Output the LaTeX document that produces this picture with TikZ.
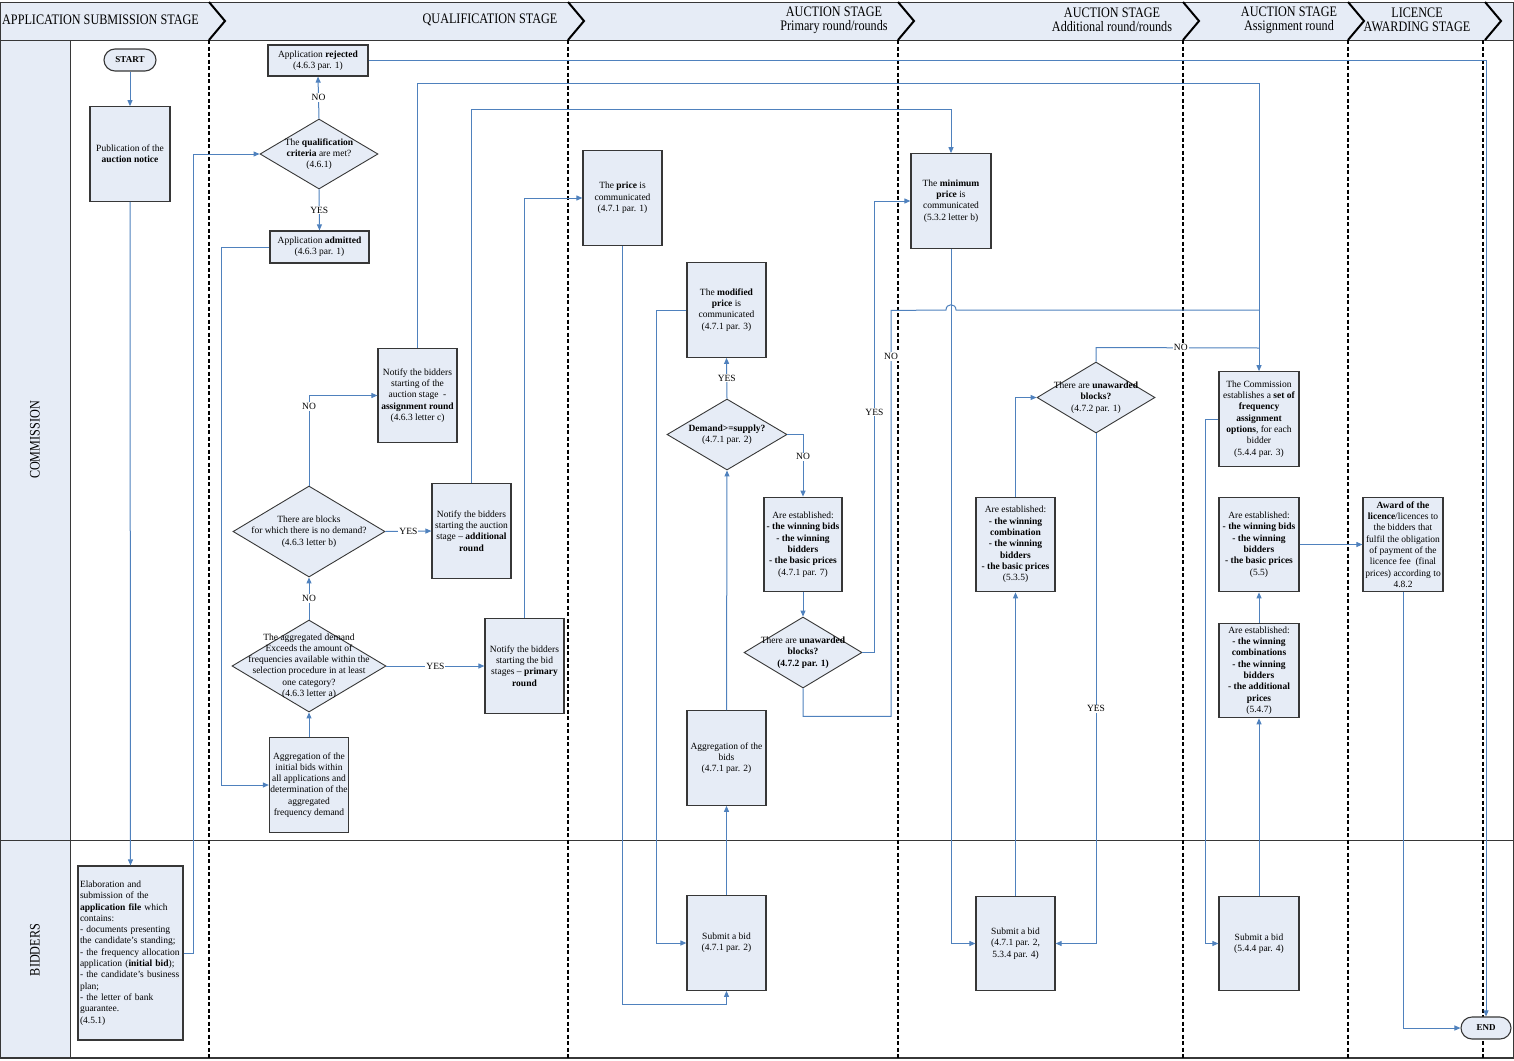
\documentclass[tikz,border=0pt]{standalone}
\usepackage{fontspec}
\setmainfont{Liberation Serif}
\newfontfamily\hdrfont[FakeStretch=0.84]{Liberation Serif}
\usetikzlibrary{arrows.meta,shapes.geometric,shapes.misc}
\definecolor{boxfill}{RGB}{230,236,246}
\definecolor{boxline}{RGB}{55,55,55}
\definecolor{connblue}{RGB}{79,129,189}
\begin{document}
\begin{tikzpicture}[x=1pt,y=-1pt,
  every node/.style={font=\fontsize{9.5}{11.3}\selectfont},
  box/.style={draw=boxline,fill=boxfill,line width=1.2pt,inner sep=1pt,align=center},
  std/.style={box,minimum width=79pt,minimum height=94.5pt},
  dia/.style={diamond,draw=boxline,fill=boxfill,line width=0.9pt,inner sep=0pt},
  dtext/.style={align=center,inner sep=0pt},
  term/.style={rounded rectangle,draw=boxline,fill=boxfill,line width=1.1pt,inner sep=1pt,font=\fontsize{9}{11}\selectfont\bfseries},
  conn/.style={draw=connblue,line width=1pt,-{Triangle[length=6pt,width=5pt]}},
  plain/.style={draw=connblue,line width=1pt},
  lbl/.style={fill=white,inner sep=1pt},
  hdr/.style={font=\hdrfont\fontsize{14.5}{14}\selectfont,align=center,inner sep=0pt},
  sep/.style={black,line width=2.8pt,dash pattern=on 4pt off 2.5pt},
  chev/.style={black,line width=2pt}]
\useasboundingbox (0,0) rectangle (1514,1060);
% header and lanes
\fill[boxfill] (0,2) rectangle (1513,40);
\fill[boxfill] (0,40) rectangle (70,1058);
\draw[boxline,line width=1pt] (0,2) rectangle (1513,1058);
\draw[boxline,line width=1pt] (0,40) -- (1513,40);
\draw[boxline,line width=1pt] (70,40) -- (70,1058);
\draw[boxline,line width=1pt] (0,840) -- (1513,840);
\draw[boxline,line width=2pt] (0,1058) -- (1513,1058);
\foreach \a in {209,568,898,1183,1348,1485} \draw[chev] (\a,2) -- (\a+16,21) -- (\a,40);
\foreach \a in {209,568,898,1183,1348,1483} \draw[sep] (\a,40) -- (\a,1058);
\node[hdr,anchor=west] (h1) at (2,20) {APPLICATION SUBMISSION STAGE};
\node[hdr] (h2) at (490,20) {QUALIFICATION STAGE};
\node[hdr] (h3) at (834,20) {AUCTION STAGE\\Primary round/rounds};
\node[hdr] (h4) at (1112,20) {AUCTION STAGE\\Additional round/rounds};
\node[hdr] (h5) at (1289,20) {AUCTION STAGE\\Assignment round};
\node[hdr] (h6) at (1417,20) {LICENCE\\AWARDING STAGE};
\node[hdr,rotate=90] (lc) at (35,440) {COMMISSION};
\node[hdr,rotate=90] (lb) at (35,950) {BIDDERS};
% nodes
\node[term,minimum width=54pt,minimum height=22pt] (start) at (130,60) {START};
\node[std,minimum width=80pt] (pub) at (130,154) {Publication of the\\\textbf{auction notice}};
\node[box,align=left,text width=101pt,minimum height=174pt,inner sep=2pt] (elab) at (130.5,953) {Elaboration and\\submission of the\\\textbf{application file} which\\contains:\\- documents presenting\\the candidate’s standing;\\- the frequency allocation\\application (\textbf{initial bid});\\- the candidate’s business\\plan;\\- the letter of bank\\guarantee.\\(4.5.1)};
\node[box,minimum width=100pt,minimum height=31pt] (rej) at (318,60.5) {Application \textbf{rejected}\\(4.6.3 par. 1)};
\node[dia,minimum width=118pt,minimum height=70pt] (qual) at (319,154) {};
\node[dtext] (qualt) at (qual) {The \textbf{qualification}\\\textbf{criteria} are met?\\(4.6.1)};
\node[box,minimum width=99pt,minimum height=32pt] (adm) at (319.5,247) {Application \textbf{admitted}\\(4.6.3 par. 1)};
\node[std] (notA) at (417.5,395.5) {Notify the bidders\\starting of the\\auction stage\ \ -\\\textbf{assignment round}\\(4.6.3 letter c)};
\node[dia,minimum width=152pt,minimum height=91pt] (blocks) at (309,531.5) {};
\node[dtext] (blockst) at (blocks) {There are blocks\\for which there is no demand?\\(4.6.3 letter b)};
\node[std] (notAdd) at (471.5,531) {Notify the bidders\\starting the auction\\stage – \textbf{additional}\\\textbf{round}};
\node[dia,minimum width=154pt,minimum height=92pt] (aggdem) at (309,666) {};
\node[dtext] (aggdemt) at (aggdem) {The aggregated demand\\Exceeds the amount of\\frequencies available within the\\selection procedure in at least\\one category?\\(4.6.3 letter a)};
\node[std] (notPrim) at (524.5,666) {Notify the bidders\\starting the bid\\stages – \textbf{primary}\\\textbf{round}};
\node[std,minimum width=78pt] (aggInit) at (309,785) {Aggregation of the\\initial bids within\\all applications and\\determination of the\\aggregated\\frequency demand};
\node[std] (price) at (622.5,198) {The \textbf{price} is\\communicated\\(4.7.1 par. 1)};
\node[std] (modp) at (726.5,310) {The \textbf{modified}\\\textbf{price} is\\communicated\\(4.7.1 par. 3)};
\node[dia,minimum width=120pt,minimum height=71pt] (dem) at (727,434.5) {};
\node[dtext] (demt) at (dem) {\textbf{Demand>=supply?}\\(4.7.1 par. 2)};
\node[std,minimum width=78pt] (estA) at (803,544.5) {Are established:\\\textbf{- the winning bids}\\\textbf{- the winning}\\\textbf{bidders}\\\textbf{- the basic prices}\\(4.7.1 par. 7)};
\node[dia,minimum width=118pt,minimum height=71pt] (unaw1) at (803,652.5) {};
\node[dtext] (unaw1t) at (unaw1) {There are \textbf{unawarded}\\\textbf{blocks?}\\\textbf{(4.7.2 par. 1)}};
\node[std] (aggBids) at (726.5,758) {Aggregation of the\\bids\\(4.7.1 par. 2)};
\node[std] (sub1) at (726.5,943) {Submit a bid\\(4.7.1 par. 2)};
\node[std,minimum width=80pt] (minp) at (951,201) {The \textbf{minimum}\\\textbf{price} is\\communicated\\(5.3.2 letter b)};
\node[std] (estB) at (1015.5,544.5) {Are established:\\\textbf{- the winning}\\\textbf{combination}\\\textbf{- the winning}\\\textbf{bidders}\\\textbf{- the basic prices}\\(5.3.5)};
\node[dia,minimum width=118pt,minimum height=71pt] (unaw2) at (1096,397.5) {};
\node[dtext] (unaw2t) at (unaw2) {There are \textbf{unawarded}\\\textbf{blocks?}\\(4.7.2 par. 1)};
\node[std] (sub2) at (1015.5,943.5) {Submit a bid\\(4.7.1 par. 2,\\5.3.4 par. 4)};
\node[std,minimum width=80pt] (comm) at (1259,419) {The Commission\\establishes a \textbf{set of}\\\textbf{frequency}\\\textbf{assignment}\\\textbf{options}, for each\\bidder\\(5.4.4 par. 3)};
\node[std,minimum width=80pt] (estC) at (1259,544.5) {Are established:\\\textbf{- the winning bids}\\\textbf{- the winning}\\\textbf{bidders}\\\textbf{- the basic prices}\\(5.5)};
\node[std,minimum width=80pt] (estD) at (1259,670.5) {Are established:\\\textbf{- the winning}\\\textbf{combinations}\\\textbf{- the winning}\\\textbf{bidders}\\\textbf{- the additional}\\\textbf{prices}\\(5.4.7)};
\node[std,minimum width=80pt] (sub3) at (1259,943.5) {Submit a bid\\(5.4.4 par. 4)};
\node[std,minimum width=80pt] (award) at (1403,544.5) {\textbf{Award of the}\\\textbf{licence}/licences to\\the bidders that\\fulfil the obligation\\of payment of the\\licence fee\ \ (final\\prices) according to\\4.8.2};
\node[term,minimum width=52pt,minimum height=22pt] (end) at (1486,1028) {END};
% connectors
\draw[conn] (start.south) -- (pub.north);
\draw[conn] (pub.south) -- (elab.north);
\draw[conn] (elab.east) -- ++(10,0) |- (qual.west);
\draw[conn] (qual.north) -- node[lbl]{NO} (rej.south);
\draw[conn] (qual.south) -- node[lbl]{YES} (adm.north);
\draw[conn] (adm.west) -- ++(-48,0) |- (aggInit.west);
\draw[conn] (aggInit.north) -- (aggdem.south);
\draw[conn] (aggdem.north) -- node[lbl]{NO} (blocks.south);
\draw[conn] (aggdem.east) -- node[lbl]{YES} (notPrim.west);
\draw[conn] (blocks.north) |- node[lbl,pos=0.44]{NO} (notA.west);
\draw[conn] (blocks.east) -- node[lbl]{YES} (notAdd.west);
\draw[conn] (notPrim.north) |- (price.west);
\draw[conn] (notAdd.north) -- ++(0,-374) -| (minp.north);
\draw[conn] (notA.north) -- ++(0,-264) -| (comm.north);
\draw[conn] (rej.east) -| (end.north);
\draw[conn] (price.south) -- ++(0,759) -| (sub1.south);
\draw[conn] (sub1.north) -- (aggBids.south);
\draw[conn] (aggBids.north) -- (dem.south);
\draw[conn] (dem.north) -- node[lbl]{YES} (modp.south);
\draw[conn] (dem.east) -| node[lbl,pos=0.68]{NO} (estA.north);
\draw[conn] (modp.west) -- ++(-30,0) |- (sub1.west);
\draw[conn] (estA.south) -- (unaw1.north);
\draw[conn] (unaw1.east) -- ++(12,0) |- node[lbl,pos=0.266]{YES} (minp.west);
\draw[plain] (unaw1.south) -- ++(0,28) -- ++(88,0) -- node[lbl,pos=0.887]{NO} ++(0,-406) -- (946,310) .. controls (946,303) and (956,303) .. (956,310) -- (comm.north |- 0,310);
\draw[conn] (minp.south) |- (sub2.west);
\draw[conn] (sub2.north) -- (estB.south);
\draw[conn] (estB.north) |- (unaw2.west);
\draw[conn] (unaw2.south) |- node[lbl,pos=0.27]{YES} (sub2.east);
\draw[plain] (unaw2.north) -- ++(0,-14) -- node[lbl,pos=0.52]{NO} (comm.north |- 0,348);
\draw[conn] (comm.west) -- ++(-13,0) |- (sub3.west);
\draw[conn] (sub3.north) -- (estD.south);
\draw[conn] (estD.north) -- (estC.south);
\draw[conn] (estC.east) -- (award.west);
\draw[conn] (award.south) |- (end.west);
\end{tikzpicture}
\end{document}
